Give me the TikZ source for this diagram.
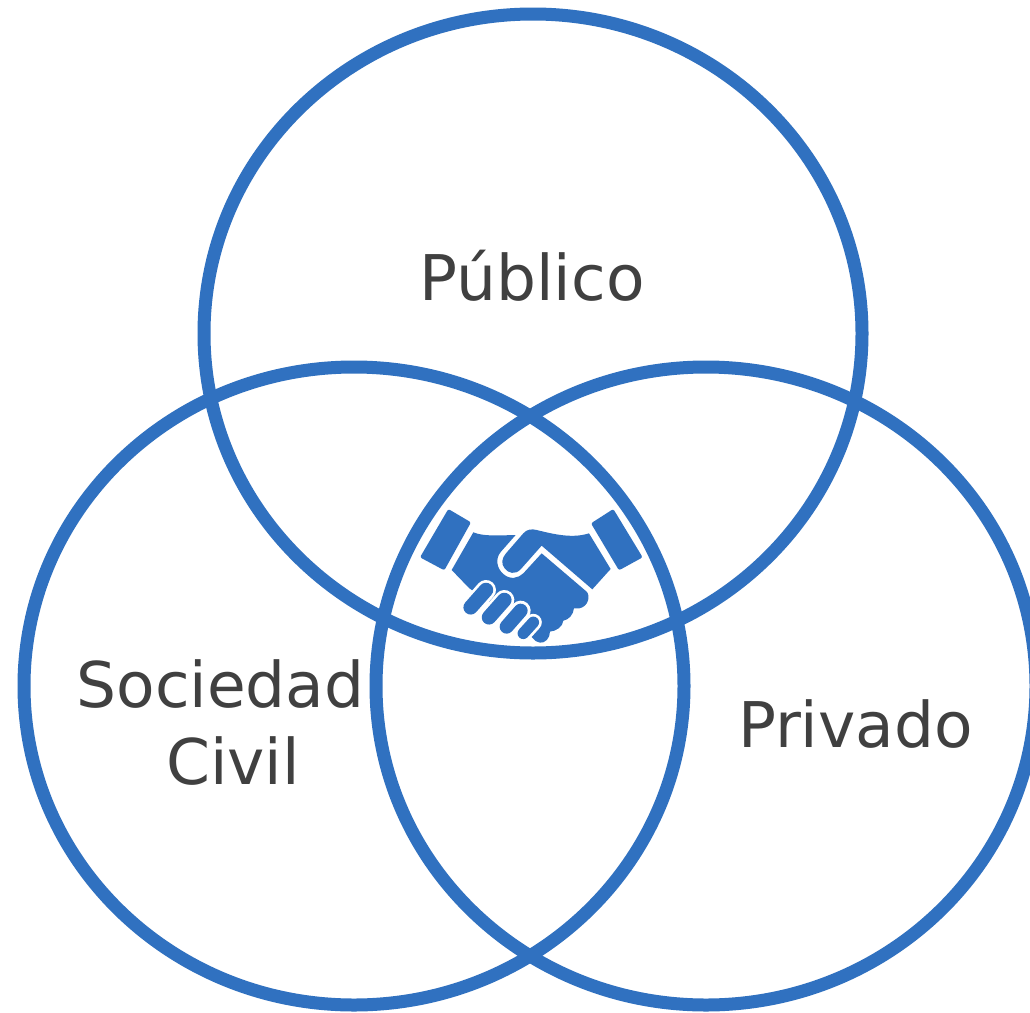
\documentclass[tikz,border=0pt]{standalone}
\usepackage{fontspec}
\setmainfont{DejaVu Sans}
\definecolor{ringblue}{HTML}{3071C0}
\definecolor{labelgrey}{HTML}{404040}
\tikzset{
  ring/.style={draw=ringblue,line width=13pt},
  label text/.style={text=labelgrey,anchor=base,inner sep=0pt,font=\fontsize{63}{63}\selectfont},
  hand/.style={fill=ringblue,draw=none},
  finger/.style={draw=ringblue,line cap=round},
  finger edge/.style={draw=white,line cap=round}
}
\begin{document}
\begin{tikzpicture}[x=1pt,y=-1pt]
\useasboundingbox (0,0) rectangle (1030,1012);
\clip (0,0) rectangle (1030,1012);
\fill[white] (0,0) rectangle (1030,1012);
\draw[ring] (533,333.5) ellipse[x radius=329,y radius=319.5];
\draw[ring] (354,686) ellipse[x radius=330,y radius=319];
\draw[ring] (706,686) ellipse[x radius=330,y radius=319];
\node[label text] (publico) at (532,300) {Público};
\node[label text] (sociedad) at (220.5,707) {Sociedad};
\node[label text] (civil) at (233,784) {Civil};
\node[label text] (privado) at (855.5,747) {Privado};
\begin{scope}[shift={(400,490)},x=0.3333pt,y=-0.3333pt]
  % cuffs
  \fill[hand,rounded corners=2pt] (145,57) -- (213,97) -- (133,241) -- (60,202) -- cycle;
  \fill[hand,rounded corners=2pt] (640,57) -- (728,202) -- (657,241) -- (573,100) -- cycle;
  % left hand and palm
  \fill[hand] (155,240) -- (220,127) .. controls (250,140) and (300,136) .. (347,135)
     -- (303,185) .. controls (285,205) and (290,235) .. (310,252)
     .. controls (330,270) and (355,265) .. (370,250) -- (425,190) -- (560,305)
     .. controls (572,318) and (565,350) .. (538,355) -- (522,355)
     .. controls (520,375) and (505,390) .. (490,392)
     .. controls (488,410) and (470,423) .. (450,425)
     .. controls (450,445) and (435,460) .. (420,458)
     .. controls (410,458) and (402,450) .. (397,443)
     -- (330,380) -- (208,295) -- cycle;
  % right hand with thumb
  \fill[hand] (632,237) -- (577,298) -- (425,167) -- (362,238)
     .. controls (345,255) and (325,250) .. (314,235)
     .. controls (303,222) and (305,205) .. (318,190)
     -- (370,130) .. controls (380,118) and (395,116) .. (410,120)
     .. controls (470,135) and (520,145) .. (567,130) -- cycle;
  % fingers
  \draw[finger edge,line width=20pt] (212,352) -- (258,300);
  \draw[finger edge,line width=20pt] (267,382) -- (313,330);
  \draw[finger edge,line width=20pt] (320,410) -- (362,362);
  \draw[finger edge,line width=17pt] (370,430) -- (400,397);
  \draw[finger,line width=14.5pt] (212,352) -- (258,300);
  \draw[finger,line width=14.5pt] (267,382) -- (313,330);
  \draw[finger,line width=14pt] (320,410) -- (362,362);
  \draw[finger,line width=11.5pt] (370,430) -- (400,397);
\end{scope}
\end{tikzpicture}
\end{document}
